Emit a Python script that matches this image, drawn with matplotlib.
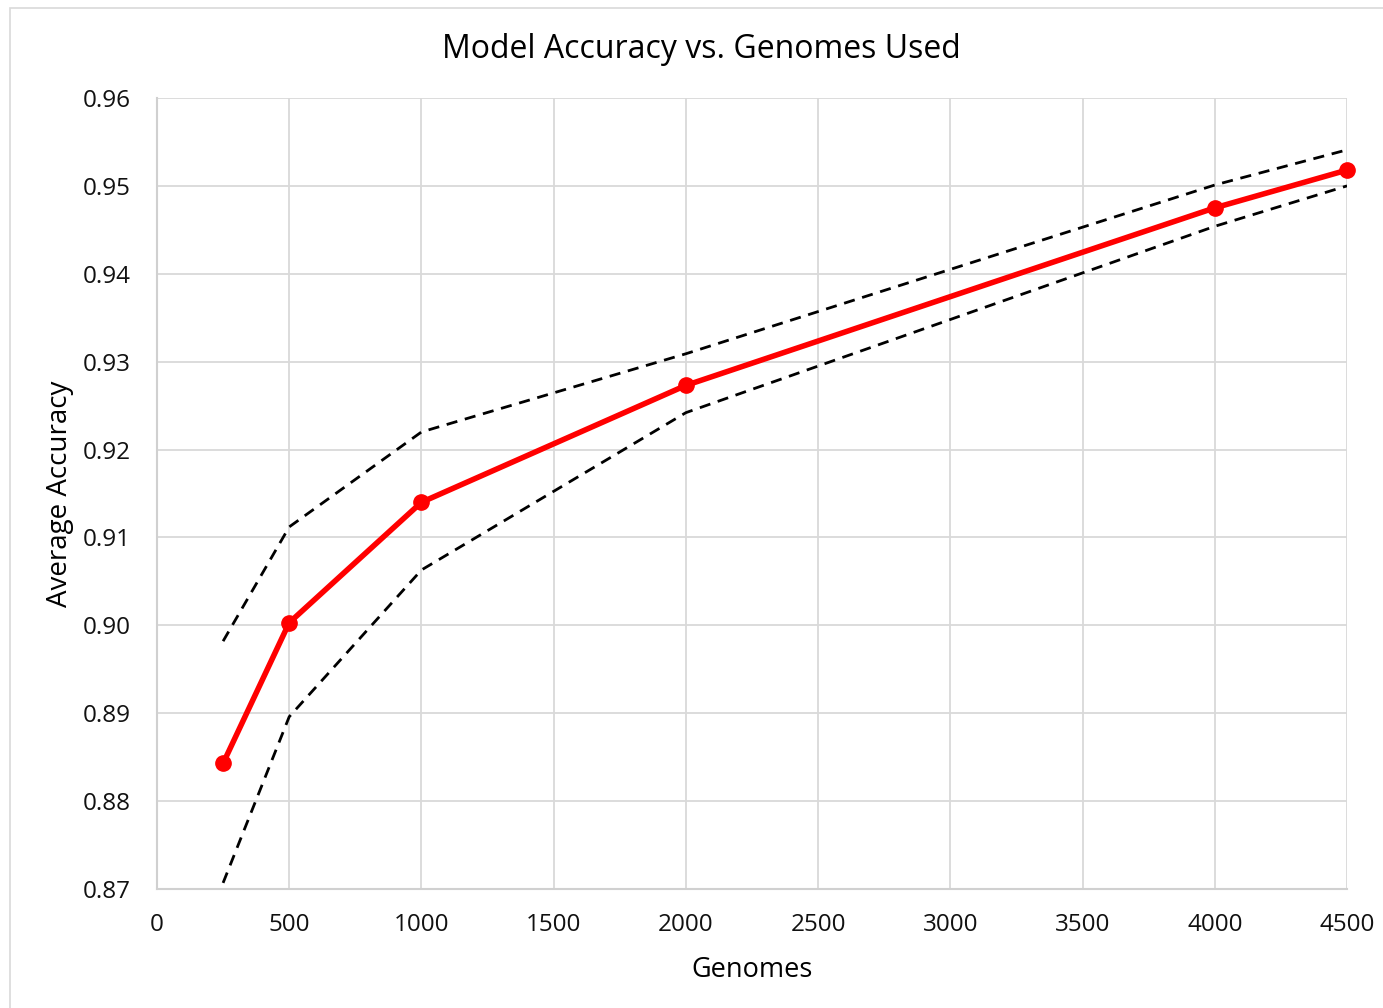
import matplotlib
matplotlib.use("Agg")
import matplotlib.pyplot as plt
from matplotlib.patches import Rectangle

genomes = [250, 500, 1000, 2000, 4000, 4500]
accuracy = [0.8843, 0.9003, 0.9140, 0.9273, 0.9475, 0.9518]
upper = [0.8982, 0.9112, 0.9220, 0.9309, 0.9501, 0.9541]
lower = [0.8707, 0.8896, 0.9063, 0.9242, 0.9454, 0.9500]
xticks = [0, 500, 1000, 1500, 2000, 2500, 3000, 3500, 4000, 4500]
yticks = [0.87, 0.88, 0.89, 0.90, 0.91, 0.92, 0.93, 0.94, 0.95, 0.96]

plt.rcParams['font.family'] = ['Open Sans', 'DejaVu Sans']

fig = plt.figure(figsize=(13.83, 10.08), dpi=100)
ax = fig.add_axes([0.1135, 0.118, 0.8605, 0.7848])

fig.patches.append(Rectangle((0.007, -0.01), 1.0, 1.002, transform=fig.transFigure,
                             fill=False, edgecolor='#d9d9d9', linewidth=1.2))

ax.plot(genomes, upper, color='black', linestyle=(0, (4, 2.8)), linewidth=2.0, zorder=3)
ax.plot(genomes, lower, color='black', linestyle=(0, (4, 2.8)), linewidth=2.0, zorder=3)
ax.plot(genomes, accuracy, color='#ff0000', linewidth=4, marker='o', markersize=11, zorder=4,
        clip_on=False)

ax.set_xlim(0, 4500)
ax.set_ylim(0.87, 0.96)
ax.set_xticks(xticks)
ax.set_yticks(yticks)
ax.set_yticklabels([f"{v:.2f}" for v in yticks])
ax.grid(True, color='#d9d9d9', linewidth=1.3)
ax.set_axisbelow(True)
for s in ['top', 'right']:
    ax.spines[s].set_visible(False)
for s in ['left', 'bottom']:
    ax.spines[s].set_color('#d0d0d0')
    ax.spines[s].set_linewidth(1.5)
ax.tick_params(length=0, labelsize=17.5, colors='#111111')
ax.tick_params(axis='x', pad=17)
ax.tick_params(axis='y', pad=19)

fig.text(0.507, 1 - 49 / 1008, "Model Accuracy vs. Genomes Used", fontsize=23,
         ha='center', va='center')
ax.set_xlabel("Genomes", fontsize=19.5, labelpad=14)
ax.set_ylabel("Average Accuracy", fontsize=20, labelpad=6)

fig.savefig("out.png", dpi=100)
